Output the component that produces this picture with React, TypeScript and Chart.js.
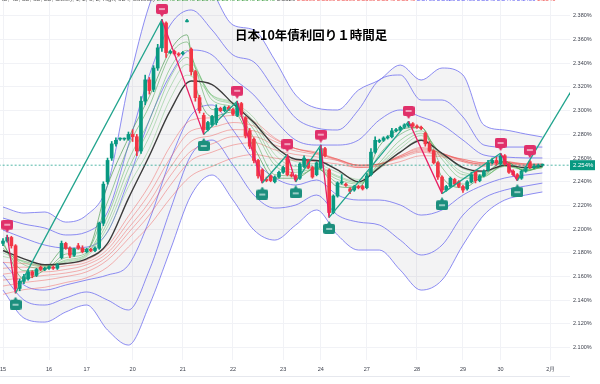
import React, { useEffect, useRef } from 'react';
import { Chart, registerables } from 'chart.js';

Chart.register(...registerables);

// ---- axis labels ----
const dayLabels = ['15', '16', '17', '20', '21', '22', '23', '24', '27', '28', '29', '30', '2月'];
const dayStartIdx = [0, 11, 20, 31, 43, 55, 67, 76, 87, 99, 110, 119, 131];
const yTickValues = [2.1, 2.12, 2.14, 2.16, 2.18, 2.2, 2.22, 2.24, 2.26, 2.28, 2.3, 2.32, 2.34, 2.36, 2.38];
const lastPrice = 2.254;

// ---- hourly candles (index = bar number), one row per trading day ----
const opens = [
  2.188, 2.190, 2.193, 2.186, 2.150, 2.156, 2.158, 2.164, 2.161, 2.168, 2.166,
  2.167, 2.168, 2.167, 2.176, 2.188, 2.184, 2.178, 2.186, 2.184,
  2.181, 2.183, 2.182, 2.184, 2.205, 2.240, 2.260, 2.272, 2.276, 2.276, 2.276,
  2.280, 2.278, 2.266, 2.308, 2.326, 2.318, 2.336, 2.353, 2.374, 2.349, 2.350, 2.348,
  2.348, 2.375, 2.352, 2.333, 2.311, 2.296, 2.284, 2.288, 2.290, 2.302, 2.300, 2.303,
  2.301, 2.296, 2.306, 2.294, 2.283, 2.276, 2.258, 2.250, 2.242, 2.245, 2.240, 2.244,
  2.248, 2.261, 2.246, 2.245, 2.243, 2.253, 2.258, 2.252, 2.246,
  2.252, 2.268, 2.250, 2.214, 2.228, 2.239, 2.238, 2.234, 2.233, 2.236, 2.236,
  2.235, 2.246, 2.265, 2.274, 2.275, 2.277, 2.278, 2.283, 2.284, 2.286, 2.287, 2.289,
  2.287, 2.286, 2.281, 2.272, 2.266, 2.256, 2.244, 2.233, 2.236, 2.242, 2.240,
  2.236, 2.234, 2.240, 2.249, 2.241, 2.245, 2.250, 2.256, 2.258,
  2.255, 2.262, 2.255, 2.249, 2.246, 2.243, 2.249, 2.257, 2.252, 2.253, 2.254,
];
const highs = [
  2.192, 2.195, 2.194, 2.187, 2.158, 2.162, 2.166, 2.165, 2.167, 2.169, 2.168,
  2.169, 2.169, 2.171, 2.190, 2.189, 2.185, 2.184, 2.188, 2.186,
  2.184, 2.184, 2.185, 2.206, 2.240, 2.260, 2.274, 2.277, 2.277, 2.277, 2.282,
  2.284, 2.280, 2.312, 2.330, 2.328, 2.338, 2.356, 2.377, 2.375, 2.351, 2.351, 2.349,
  2.350, 2.377, 2.353, 2.334, 2.313, 2.298, 2.291, 2.296, 2.305, 2.303, 2.304, 2.304,
  2.302, 2.308, 2.307, 2.295, 2.285, 2.277, 2.259, 2.251, 2.244, 2.246, 2.245, 2.249,
  2.253, 2.263, 2.248, 2.246, 2.256, 2.262, 2.259, 2.253, 2.257,
  2.271, 2.269, 2.251, 2.229, 2.240, 2.246, 2.239, 2.235, 2.237, 2.237, 2.237,
  2.247, 2.268, 2.278, 2.276, 2.278, 2.279, 2.285, 2.285, 2.287, 2.289, 2.291, 2.290,
  2.288, 2.287, 2.282, 2.274, 2.267, 2.257, 2.245, 2.237, 2.244, 2.243, 2.241,
  2.237, 2.241, 2.248, 2.250, 2.246, 2.250, 2.258, 2.260, 2.261,
  2.264, 2.263, 2.256, 2.250, 2.247, 2.250, 2.253, 2.258, 2.255, 2.255, 2.255,
];
const lows = [
  2.186, 2.189, 2.184, 2.146, 2.148, 2.154, 2.157, 2.159, 2.160, 2.165, 2.165,
  2.166, 2.166, 2.166, 2.175, 2.183, 2.176, 2.177, 2.183, 2.180,
  2.180, 2.181, 2.181, 2.183, 2.203, 2.238, 2.258, 2.270, 2.275, 2.275, 2.275,
  2.274, 2.262, 2.264, 2.305, 2.314, 2.316, 2.334, 2.350, 2.345, 2.348, 2.347, 2.346,
  2.347, 2.375, 2.330, 2.308, 2.298, 2.280, 2.283, 2.287, 2.288, 2.299, 2.299, 2.300,
  2.296, 2.295, 2.296, 2.277, 2.268, 2.256, 2.243, 2.239, 2.240, 2.240, 2.239, 2.243,
  2.247, 2.245, 2.244, 2.240, 2.242, 2.252, 2.251, 2.243, 2.245,
  2.251, 2.261, 2.210, 2.213, 2.227, 2.238, 2.236, 2.230, 2.232, 2.234, 2.233,
  2.234, 2.245, 2.264, 2.273, 2.274, 2.276, 2.277, 2.282, 2.283, 2.285, 2.286, 2.286,
  2.285, 2.284, 2.270, 2.265, 2.255, 2.242, 2.230, 2.232, 2.235, 2.237, 2.235,
  2.231, 2.233, 2.239, 2.239, 2.240, 2.244, 2.249, 2.255, 2.254,
  2.254, 2.254, 2.247, 2.245, 2.241, 2.242, 2.248, 2.251, 2.251, 2.252, 2.253,
];
const closes = [
  2.190, 2.193, 2.186, 2.150, 2.156, 2.160, 2.164, 2.161, 2.166, 2.166, 2.167,
  2.168, 2.167, 2.170, 2.188, 2.184, 2.178, 2.183, 2.184, 2.181,
  2.183, 2.182, 2.184, 2.205, 2.238, 2.258, 2.272, 2.275, 2.276, 2.276, 2.280,
  2.278, 2.266, 2.308, 2.326, 2.317, 2.336, 2.353, 2.374, 2.349, 2.350, 2.348, 2.347,
  2.349, 2.376, 2.333, 2.311, 2.300, 2.284, 2.290, 2.295, 2.302, 2.300, 2.303, 2.301,
  2.297, 2.306, 2.297, 2.279, 2.270, 2.258, 2.245, 2.241, 2.241, 2.241, 2.244, 2.248,
  2.252, 2.246, 2.245, 2.242, 2.255, 2.260, 2.252, 2.244, 2.256,
  2.268, 2.262, 2.214, 2.228, 2.239, 2.240, 2.237, 2.232, 2.236, 2.235, 2.234,
  2.245, 2.265, 2.275, 2.275, 2.277, 2.278, 2.283, 2.284, 2.286, 2.288, 2.289, 2.287,
  2.286, 2.285, 2.272, 2.266, 2.256, 2.244, 2.233, 2.236, 2.243, 2.238, 2.236,
  2.233, 2.240, 2.246, 2.241, 2.245, 2.249, 2.256, 2.258, 2.256,
  2.262, 2.255, 2.248, 2.246, 2.243, 2.249, 2.252, 2.252, 2.253, 2.254, 2.254,
];

// ---- indicator lines, read at every 5th bar ----
const sampleIdx = [0, 5, 10, 15, 20, 25, 30, 35, 40, 45, 50, 55, 60, 65, 70, 75, 80, 85, 90, 95, 100, 105, 110, 115, 120, 125, 129];
const shortSampleIdx = [0, 5, 10, 15, 20, 25, 30, 35, 40, 44, 46, 50, 55, 60, 65, 70, 75, 80, 85, 90, 95, 100, 105, 110, 115, 120, 125, 129];

const midLine = [2.182, 2.175, 2.170, 2.171, 2.175, 2.188, 2.226, 2.262, 2.300, 2.325, 2.322, 2.306, 2.290, 2.270, 2.259, 2.258, 2.250, 2.240, 2.252, 2.265, 2.275, 2.264, 2.252, 2.249, 2.254, 2.252, 2.253];

const bandUpper3 = [2.2187, 2.2136, 2.2145, 2.2060, 2.2119, 2.2373, 2.3217, 2.3892, 2.4272, 2.4356, 2.4018, 2.3723, 2.3681, 2.3428, 2.3132, 2.3022, 2.3006, 2.3174, 2.3259, 2.3385, 2.3259, 2.3360, 2.3301, 2.2879, 2.2837, 2.2803, 2.2778];
const bandUpper2 = [2.2094, 2.2043, 2.2010, 2.1951, 2.1976, 2.2145, 2.2710, 2.3301, 2.3723, 2.3850, 2.3681, 2.3470, 2.3411, 2.3174, 2.2938, 2.2854, 2.2837, 2.3006, 2.3259, 2.3301, 2.3090, 2.3090, 2.2947, 2.2710, 2.2693, 2.2693, 2.2693];
const bandUpper1 = [2.1993, 2.1925, 2.1866, 2.1841, 2.1849, 2.1976, 2.2415, 2.2921, 2.3301, 2.3512, 2.3470, 2.3276, 2.3132, 2.2921, 2.2752, 2.2710, 2.2710, 2.2752, 2.2921, 2.3006, 2.2947, 2.2879, 2.2752, 2.2626, 2.2609, 2.2601, 2.2601];
const bandLower1 = [2.1723, 2.1529, 2.1486, 2.1529, 2.1571, 2.1613, 2.1697, 2.2077, 2.2584, 2.2963, 2.3048, 2.2837, 2.2584, 2.2432, 2.2373, 2.2415, 2.2288, 2.2246, 2.2246, 2.2204, 2.2119, 2.2162, 2.2288, 2.2373, 2.2432, 2.2457, 2.2474];
const bandLower2 = [2.1613, 2.1402, 2.1360, 2.1419, 2.1470, 2.1402, 2.1318, 2.1655, 2.2162, 2.2626, 2.2752, 2.2541, 2.2288, 2.2178, 2.2204, 2.2288, 2.2119, 2.2060, 2.2035, 2.1908, 2.1782, 2.1866, 2.2119, 2.2263, 2.2330, 2.2364, 2.2389];
const bandLower3 = [2.1486, 2.1250, 2.1216, 2.1301, 2.1360, 2.1149, 2.1022, 2.1360, 2.1824, 2.2288, 2.2457, 2.2246, 2.1993, 2.1908, 2.2035, 2.2162, 2.1951, 2.1824, 2.1824, 2.1655, 2.1486, 2.1571, 2.1866, 2.2119, 2.2246, 2.2288, 2.2314];

const shortMa1 = [2.189, 2.158, 2.166, 2.184, 2.183, 2.237, 2.277, 2.312, 2.351, 2.364, 2.322, 2.295, 2.299, 2.269, 2.243, 2.243, 2.252, 2.236, 2.235, 2.270, 2.284, 2.286, 2.244, 2.235, 2.246, 2.257, 2.249, 2.254];
const shortMa2 = [2.187, 2.165, 2.166, 2.179, 2.182, 2.223, 2.270, 2.304, 2.347, 2.358, 2.336, 2.301, 2.300, 2.277, 2.246, 2.245, 2.251, 2.239, 2.236, 2.263, 2.280, 2.286, 2.252, 2.238, 2.245, 2.257, 2.249, 2.253];
const shortMa3 = [2.184, 2.170, 2.167, 2.176, 2.180, 2.211, 2.258, 2.292, 2.336, 2.351, 2.338, 2.309, 2.303, 2.284, 2.254, 2.248, 2.251, 2.242, 2.238, 2.256, 2.275, 2.283, 2.259, 2.243, 2.244, 2.255, 2.250, 2.252];
const shortMa4 = [2.182, 2.172, 2.168, 2.174, 2.179, 2.206, 2.251, 2.285, 2.328, 2.345, 2.336, 2.312, 2.305, 2.288, 2.258, 2.250, 2.252, 2.244, 2.239, 2.254, 2.271, 2.281, 2.262, 2.246, 2.245, 2.254, 2.250, 2.252];
const shortMa5 = [2.180, 2.173, 2.169, 2.173, 2.178, 2.202, 2.244, 2.278, 2.320, 2.339, 2.333, 2.313, 2.306, 2.291, 2.263, 2.253, 2.253, 2.245, 2.240, 2.253, 2.268, 2.279, 2.263, 2.248, 2.246, 2.253, 2.250, 2.252];
const shortMa6 = [2.177, 2.173, 2.169, 2.172, 2.177, 2.198, 2.236, 2.268, 2.310, 2.330, 2.327, 2.313, 2.307, 2.294, 2.268, 2.257, 2.255, 2.248, 2.242, 2.251, 2.265, 2.276, 2.264, 2.251, 2.248, 2.253, 2.251, 2.252];

const longMa1 = [2.172, 2.171, 2.169, 2.171, 2.174, 2.186, 2.211, 2.237, 2.270, 2.292, 2.294, 2.296, 2.291, 2.277, 2.268, 2.264, 2.258, 2.252, 2.254, 2.262, 2.269, 2.264, 2.257, 2.253, 2.256, 2.253, 2.253];
const longMa2 = [2.167, 2.168, 2.167, 2.169, 2.172, 2.183, 2.206, 2.230, 2.260, 2.283, 2.286, 2.290, 2.287, 2.276, 2.268, 2.265, 2.259, 2.253, 2.255, 2.262, 2.268, 2.264, 2.258, 2.254, 2.256, 2.254, 2.254];
const longMa3 = [2.162, 2.164, 2.164, 2.166, 2.170, 2.180, 2.201, 2.223, 2.252, 2.274, 2.279, 2.284, 2.283, 2.274, 2.268, 2.264, 2.259, 2.254, 2.255, 2.261, 2.267, 2.264, 2.258, 2.255, 2.257, 2.254, 2.254];
const longMa4 = [2.157, 2.159, 2.161, 2.163, 2.167, 2.177, 2.197, 2.218, 2.245, 2.266, 2.272, 2.278, 2.278, 2.271, 2.266, 2.263, 2.259, 2.254, 2.255, 2.261, 2.266, 2.263, 2.259, 2.256, 2.257, 2.255, 2.254];
const longMa5 = [2.152, 2.155, 2.157, 2.160, 2.164, 2.174, 2.192, 2.212, 2.237, 2.258, 2.265, 2.271, 2.273, 2.267, 2.263, 2.261, 2.258, 2.254, 2.255, 2.260, 2.265, 2.262, 2.259, 2.256, 2.257, 2.255, 2.255];
const longMa6 = [2.145, 2.149, 2.151, 2.155, 2.159, 2.168, 2.185, 2.203, 2.226, 2.245, 2.253, 2.260, 2.263, 2.260, 2.258, 2.257, 2.255, 2.252, 2.253, 2.257, 2.262, 2.261, 2.257, 2.255, 2.256, 2.255, 2.255];

// ---- zigzag swing points ----
const swingIdx = [1, 3, 38, 48, 56, 62, 68, 70, 76, 78, 97, 105, 119, 123, 138];
const swingVal = [2.195, 2.146, 2.377, 2.280, 2.308, 2.239, 2.263, 2.240, 2.271, 2.210, 2.291, 2.230, 2.264, 2.241, 2.329];
const highMarkIdx = [1, 38, 56, 68, 76, 97, 119, 126];
const lowMarkIdx = [3, 48, 62, 70, 78, 105, 123];

const UP = '#089981';
const DOWN = '#f23645';
const ZZ_UP = '#1fa38c';
const ZZ_DOWN = '#e91e63';

function makeMarker(color: string, pointDown: boolean): HTMLCanvasElement {
  const c = document.createElement('canvas');
  c.width = 12;
  c.height = 13;
  const g = c.getContext('2d') as CanvasRenderingContext2D;
  g.fillStyle = color;
  const boxTop = pointDown ? 0 : 3;
  g.beginPath();
  if ((g as any).roundRect) (g as any).roundRect(0, boxTop, 12, 10, 2);
  else g.rect(0, boxTop, 12, 10);
  g.fill();
  g.beginPath();
  if (pointDown) {
    g.moveTo(4, 10); g.lineTo(8, 10); g.lineTo(6, 13);
  } else {
    g.moveTo(4, 3); g.lineTo(8, 3); g.lineTo(6, 0);
  }
  g.closePath();
  g.fill();
  g.fillStyle = 'rgba(255,255,255,0.55)';
  g.fillRect(3, boxTop + 4, 6, 2);
  return c;
}

export default function App() {
  const ref = useRef<HTMLCanvasElement>(null);

  useEffect(() => {
    if (!ref.current) return;
    const pts = (arr: number[]) => sampleIdx.map((x, i) => ({ x, y: arr[i] }));
    const spts = (arr: number[]) => shortSampleIdx.map((x, i) => ({ x, y: arr[i] }));
    const colors = opens.map((o, i) => (closes[i] >= o ? UP : DOWN));
    const bodies = opens.map((o, i) => ({ x: i, y: [o, closes[i]] }));
    const wicks = opens.map((_, i) => ({ x: i, y: [lows[i], highs[i]] }));
    const swings = swingIdx.map((x, i) => ({ x, y: swingVal[i] }));
    const highMarks = highMarkIdx.map((i) => ({ x: i, y: highs[i] + 0.0075 }));
    const lowMarks = lowMarkIdx.map((i) => ({ x: i, y: lows[i] - 0.0085 }));

    const line = (data: any, color: string, width: number, order: number, extra: any = {}) => ({
      type: 'line',
      data,
      borderColor: color,
      borderWidth: width,
      pointRadius: 0,
      cubicInterpolationMode: 'monotone',
      fill: false,
      order,
      ...extra,
    });

    const blue = 'rgba(112,112,240,0.8)';
    const green = ['rgba(56,142,60,0.75)', 'rgba(67,160,71,0.65)', 'rgba(76,175,80,0.6)', 'rgba(76,175,80,0.55)', 'rgba(102,187,106,0.55)', 'rgba(102,187,106,0.5)'];
    const red = 'rgba(239,83,80,0.55)';

    const priceTag = {
      id: 'priceTag',
      afterDraw(chart: any) {
        const { ctx, chartArea } = chart;
        const y = chart.scales.y.getPixelForValue(lastPrice);
        ctx.save();
        ctx.fillStyle = UP;
        ctx.fillRect(chartArea.right, y - 5, 25, 10);
        ctx.fillStyle = '#ffffff';
        ctx.font = '6px "Liberation Sans"';
        ctx.textBaseline = 'middle';
        ctx.fillText(lastPrice.toFixed(3) + '%', chartArea.right + 3, y + 0.5);
        ctx.restore();
      },
    };

    const chart = new Chart(ref.current, {
      type: 'line',
      data: {
        datasets: [
          line(pts(bandUpper3), blue, 1, 50, { fill: { target: 5 }, backgroundColor: 'rgba(90,90,100,0.07)' }),
          line(pts(bandUpper2), blue, 1, 50),
          line(pts(bandUpper1), blue, 1, 50),
          line(pts(bandLower1), blue, 1, 50),
          line(pts(bandLower2), blue, 1, 50),
          line(pts(bandLower3), blue, 1, 50),
          line(pts(longMa6), red, 0.8, 40),
          line(pts(longMa5), red, 0.8, 40),
          line(pts(longMa4), red, 0.8, 40),
          line(pts(longMa3), red, 0.8, 40),
          line(pts(longMa2), red, 0.8, 40),
          line(pts(longMa1), red, 0.8, 40),
          line(spts(shortMa6), green[5], 0.8, 30),
          line(spts(shortMa5), green[4], 0.8, 30),
          line(spts(shortMa4), green[3], 0.8, 30),
          line(spts(shortMa3), green[2], 0.8, 30),
          line(spts(shortMa2), green[1], 0.8, 30),
          line(spts(shortMa1), green[0], 0.8, 30),
          line(pts(midLine), '#3b3b3b', 1.4, 25),
          line([{ x: -2, y: lastPrice }, { x: 140, y: lastPrice }], 'rgba(8,153,129,0.7)', 1, 22, { borderDash: [2, 2], cubicInterpolationMode: 'default', tension: 0 }),
          {
            type: 'bar',
            data: wicks,
            backgroundColor: colors,
            barThickness: 1,
            grouped: false,
            order: 20,
          },
          {
            type: 'bar',
            data: bodies,
            backgroundColor: colors,
            barThickness: 3,
            minBarLength: 1,
            grouped: false,
            order: 19,
          },
          line(swings, ZZ_UP, 1.3, 10, {
            cubicInterpolationMode: 'default',
            tension: 0,
            segment: { borderColor: (c: any) => (c.p1.parsed.y > c.p0.parsed.y ? ZZ_UP : ZZ_DOWN) },
          }),
          {
            type: 'line',
            data: highMarks,
            showLine: false,
            pointRadius: 6,
            pointStyle: makeMarker('#e0306a', true),
            order: 5,
          },
          {
            type: 'line',
            data: lowMarks,
            showLine: false,
            pointRadius: 6,
            pointStyle: makeMarker('#1c8f7e', false),
            order: 5,
          },
        ] as any,
      },
      options: {
        responsive: false,
        animation: false,
        devicePixelRatio: 1,
        layout: { padding: 0, autoPadding: false },
        plugins: {
          legend: { display: false },
          tooltip: { enabled: false },
          title: { display: false },
          filler: { drawTime: 'beforeDatasetsDraw' } as any,
        },
        scales: {
          x: {
            type: 'linear',
            min: -0.72,
            max: 135.6,
            offset: false,
            grid: { color: '#f1f2f6', drawTicks: false, offset: false },
            border: { display: false },
            ticks: {
              autoSkip: false,
              maxRotation: 0,
              padding: 6,
              color: '#3a3e4a',
              font: { size: 5.5, family: 'Liberation Sans' },
              callback: (_v: any, i: number) => dayLabels[i],
            },
            afterBuildTicks: (scale: any) => {
              scale.ticks = dayStartIdx.map((v) => ({ value: v }));
            },
            afterFit: (scale: any) => {
              scale.height = 24;
              scale.paddingLeft = 0;
              scale.paddingRight = 0;
            },
          } as any,
          y: {
            type: 'linear',
            position: 'right',
            min: 2.0896,
            max: 2.3934,
            grid: { color: '#f1f2f6', drawTicks: false },
            border: { display: false },
            ticks: {
              padding: 3,
              color: '#3a3e4a',
              font: { size: 5.5, family: 'Liberation Sans' },
              callback: (v: any) => Number(v).toFixed(3) + '%',
            },
            afterBuildTicks: (scale: any) => {
              scale.ticks = yTickValues.map((v) => ({ value: v }));
            },
            afterFit: (scale: any) => {
              scale.width = 30;
              scale.paddingTop = 0;
              scale.paddingBottom = 0;
            },
          } as any,
        },
      },
      plugins: [priceTag],
    } as any);

    return () => chart.destroy();
  }, []);

  return (
    <div style={{ position: 'fixed', left: 0, top: 0, width: 600, height: 384, background: '#ffffff', overflow: 'hidden' }}>
      <canvas ref={ref} width={600} height={384} style={{ position: 'absolute', left: 0, top: 0 }} />
      <div
        style={{
          position: 'absolute', left: 0, top: -4, whiteSpace: 'nowrap',
          font: '6px "Liberation Sans"', color: '#555',
        }}
      >
        4D, 4D, 5D, 6D, 2D, Close), 1, 2, 3, 2, High, 6D4, Outside){' '}
        <span style={{ color: '#43a047' }}>2.2540 2.2540 2.2540 2.2540 2.2540 2.2540</span>{' '}
        <span style={{ color: '#555' }}>2.2529</span>{' '}
        <span style={{ color: '#ef5350' }}>2.2530 2.2530 2.2530 2.2530 2.2540 2.2540</span>{' '}
        <span style={{ color: '#5c5cf0' }}>2.2700 2.2620 2.2400 2.2540 2.2470 2.2400</span>{' '}
        <span style={{ color: '#ef5350' }}>2.2540</span>
      </div>
      <div
        style={{
          position: 'absolute', left: 235, top: 25, whiteSpace: 'nowrap',
          font: 'bold 12.5px "Noto Sans CJK JP"', color: '#000',
        }}
      >
        日本10年債利回り１時間足
      </div>
      <div style={{ position: 'absolute', left: 0, top: 376, width: 570, height: 1, background: '#e6e8ee' }} />
    </div>
  );
}
